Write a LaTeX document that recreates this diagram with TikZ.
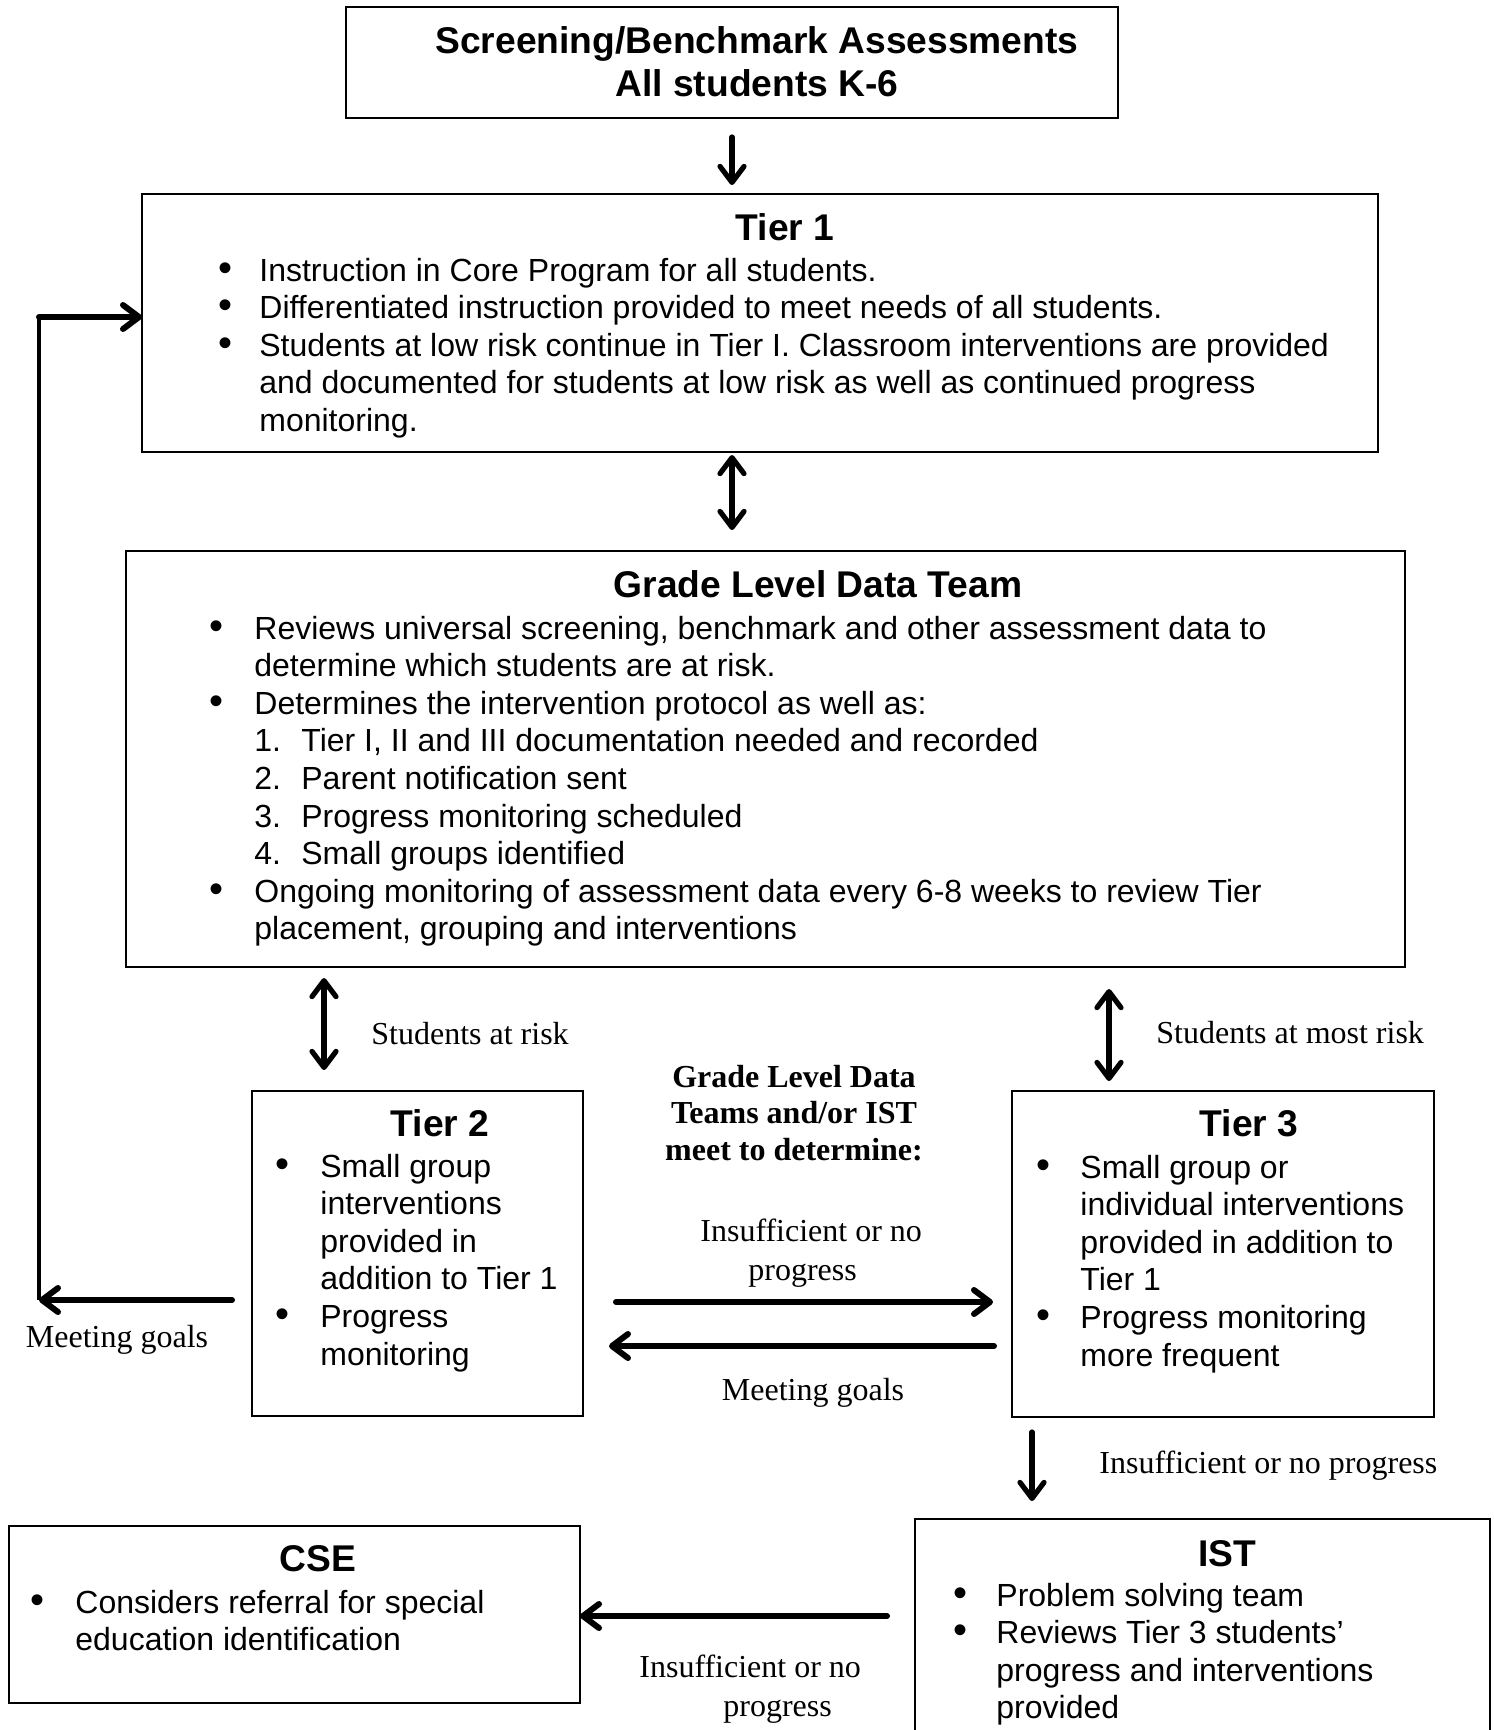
\documentclass[tikz,border=0pt]{standalone}
\usepackage{fontspec}
\setmainfont{Liberation Sans}
\newfontfamily\tnr{Liberation Serif}
\usepackage{tikz}
\usetikzlibrary{arrows.meta, positioning, calc}
\newcommand{\wide}[1]{\multicolumn{2}{@{}l@{}}{#1}}
\newcommand{\bul}{\hspace*{-2.5pt}\scalebox{1.25}{\textbullet}}
\tikzset{
    box/.style 2 args={draw, line width=0.8pt, anchor=north west, inner sep=0pt, outer sep=0pt,
        minimum width=#1*0.5pt, minimum height=#2*0.5pt},
    ttl/.style={font=\fontsize{18.6}{21.5}\selectfont\bfseries, anchor=base, inner sep=0pt},
    lst/.style={font=\fontsize{16}{18.8}\selectfont, anchor=base west, inner sep=0pt},
    lbl/.style={font=\tnr\fontsize{16}{19.5}\selectfont, inner sep=0pt},
    blbl/.style={font=\tnr\bfseries\fontsize{16}{18.25}\selectfont, inner sep=0pt},
    tip/.style={Straight Barb[length=8pt, width=12pt, round]},
    arr/.style={line width=3pt, line cap=round, -{Straight Barb[length=8pt, width=12pt, round]}},
    varr/.style={line width=2.6pt, line cap=round, -{Straight Barb[length=8pt, width=12pt, round]}},
    darr/.style={line width=2.6pt, line cap=round, {Straight Barb[length=8pt, width=12pt, round]}-{Straight Barb[length=8pt, width=12pt, round]}}
}
\begin{document}
\begin{tikzpicture}[x=0.5pt, y=-0.5pt]
        \path[use as bounding box] (0,0) rectangle (1494,1730);
        \clip (0,0) rectangle (1494,1730);

        % Boxes
        \node[box={772}{111}] (top) at (346,7) {};
        \node[box={1236}{258}] (t1) at (142,194) {};
        \node[box={1279}{416}] (gl) at (126,551) {};
        \node[box={331}{325}] (t2) at (252,1091) {};
        \node[box={422}{326}] (t3) at (1012,1091) {};
        \node[box={571}{177}] (cse) at (9,1526) {};
        \node[box={575}{225}] (ist) at (915,1519) {};

        % Titles
        \node[ttl] (topttl) at (757,53) {\begin{tabular}[t]{@{}c@{}}Screening/Benchmark Assessments\\All students K-6\end{tabular}};
        \node[ttl] (t1ttl) at (785,240) {Tier 1};
        \node[ttl] (glttl) at (818,597) {Grade Level Data Team};
        \node[ttl] (t2ttl) at (440,1136) {Tier 2};
        \node[ttl] (t3ttl) at (1249,1136) {Tier 3};
        \node[ttl] (istttl) at (1227,1566) {IST};
        \node[ttl] (csettl) at (318,1571) {CSE};

        % Bullet lists
        \node[lst] (t1lst) at (223,281) {\begin{tabular}[t]{@{}p{18pt}@{}l@{}}
            \bul & Instruction in Core Program for all students.\\
            \bul & Differentiated instruction provided to meet needs of all students.\\
            \bul & Students at low risk continue in Tier I. Classroom interventions are provided\\
            & and documented for students at low risk as well as continued progress\\
            & monitoring.
        \end{tabular}};
        \node[lst] (gllst) at (214,639) {\begin{tabular}[t]{@{}p{20pt}@{}p{23.5pt}@{}l@{}}
            \bul & \wide{Reviews universal screening, benchmark and other assessment data to}\\
            & \wide{determine which students are at risk.}\\
            \bul & \wide{Determines the intervention protocol as well as:}\\
            & 1. & Tier I, II and III documentation needed and recorded\\
            & 2. & Parent notification sent\\
            & 3. & Progress monitoring scheduled\\
            & 4. & Small groups identified\\
            \bul & \wide{Ongoing monitoring of assessment data every 6-8 weeks to review Tier}\\
            & \wide{placement, grouping and interventions}
        \end{tabular}};
        \node[lst] (t2lst) at (280,1177) {\begin{tabular}[t]{@{}p{20pt}@{}l@{}}
            \bul & Small group\\
            & interventions\\
            & provided in\\
            & addition to Tier 1\\
            \bul & Progress\\
            & monitoring
        \end{tabular}};
        \node[lst] (t3lst) at (1041,1178) {\begin{tabular}[t]{@{}p{19.5pt}@{}l@{}}
            \bul & Small group or\\
            & individual interventions\\
            & provided in addition to\\
            & Tier 1\\
            \bul & Progress monitoring\\
            & more frequent
        \end{tabular}};
        \node[lst] (istlst) at (958,1606) {\begin{tabular}[t]{@{}p{19pt}@{}l@{}}
            \bul & Problem solving team\\
            \bul & Reviews Tier 3 students’\\
            & progress and interventions\\
            & provided
        \end{tabular}};
        \node[lst] (cselst) at (35,1613) {\begin{tabular}[t]{@{}p{20pt}@{}l@{}}
            \bul & Considers referral for special\\
            & education identification
        \end{tabular}};

        % Labels
        \node[lbl, anchor=base west] (riskl) at (371,1044) {Students at risk};
        \node[lbl, anchor=base west] (mostl) at (1156,1043) {Students at most risk};
        \node[blbl, anchor=base] (meetl) at (794,1087) {\begin{tabular}[t]{@{}c@{}}Grade Level Data\\Teams and/or IST\\meet to determine:\end{tabular}};
        \node[lbl, anchor=base west] (insuf1) at (700,1241) {\begin{tabular}[t]{@{}l@{}}Insufficient or no\\\hspace*{24pt}progress\end{tabular}};
        \node[lbl, anchor=base] (goal1) at (813,1400) {Meeting goals};
        \node[lbl, anchor=base] (goal2) at (117,1347) {Meeting goals};
        \node[lbl, anchor=base west] (insuf2) at (1099,1473) {Insufficient or no progress};
        \node[lbl, anchor=base west] (insuf3) at (639,1677) {\begin{tabular}[t]{@{}l@{}}Insufficient or no\\\hspace*{42pt}progress\end{tabular}};

        % Connectors
        \coordinate (c2) at ($(t2.north west)+(72,0)$);
        \coordinate (c3) at ($(t3.north west)+(97,0)$);
        \coordinate (c4) at ($(t3.south west)+(20,0)$);
        \coordinate (lbot) at (39,1300);
        \coordinate (ltop) at (39,317);
        \draw[varr, shorten <=9.5pt, shorten >=4.5pt] (top.south) -- (top.south |- t1.north);
        \draw[darr, shorten <=1.5pt, shorten >=10.5pt] (t1.south -| top.south) -- (gl.north -| top.south);
        \draw[darr, shorten <=5.5pt, shorten >=10.5pt] (c2 |- gl.south) -- (c2);
        \draw[darr, shorten <=11pt, shorten >=5pt] (c3 |- gl.south) -- (c3);
        \draw[arr, shorten <=16.5pt, shorten >=9.5pt] ($(t2.north east)+(0,211)$) -- ($(t3.north west)+(0,211)$);
        \draw[arr, shorten <=9pt, shorten >=13pt] ($(t3.north west)+(0,255)$) -- ($(t2.north east)+(0,255)$);
        \draw[arr, shorten <=10pt] ($(t2.north west)+(0,209)$) -- (lbot);
        \draw[line width=2.3pt] (lbot) -- ($(ltop)+(0,2)$);
        \draw[arr] (ltop) -- (ltop -| t1.west);
        \draw[varr, shorten <=7.5pt, shorten >=9pt] (c4) -- (c4 |- ist.north);
        \draw[arr, shorten <=14pt] ($(ist.north west)+(0,97)$) -- ($(cse.north east)+(0,90)$);
    \end{tikzpicture}
\end{document}
